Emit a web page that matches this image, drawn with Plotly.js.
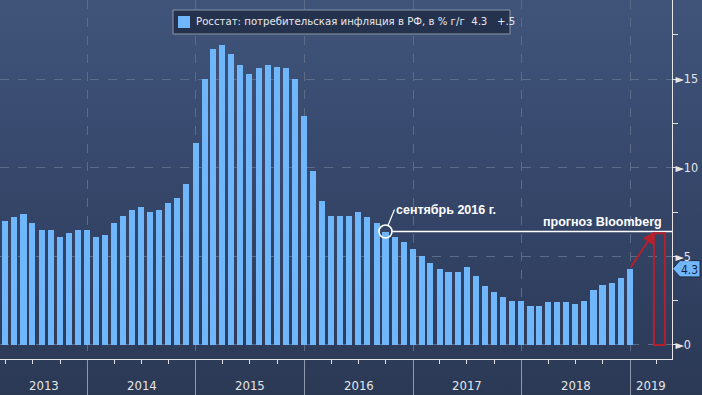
<!DOCTYPE html>
<html>
<head>
<meta charset="utf-8">
<script src="https://cdn.plot.ly/plotly-3.0.1.min.js"></script>
<style>
html,body{margin:0;padding:0;}
body{width:702px;height:395px;overflow:hidden;background:linear-gradient(to bottom,#40547a 0%,#36476b 45%,#2b3955 100%);}
#chart{width:702px;height:395px;}
</style>
</head>
<body>
<div id="chart"></div>
<script>
// Months (year-month), Rosstat CPI y/y, %
const months = [
  '2013-03','2013-04','2013-05','2013-06','2013-07','2013-08','2013-09','2013-10','2013-11','2013-12',
  '2014-01','2014-02','2014-03','2014-04','2014-05','2014-06','2014-07','2014-08','2014-09','2014-10','2014-11','2014-12',
  '2015-01','2015-02','2015-03','2015-04','2015-05','2015-06','2015-07','2015-08','2015-09','2015-10','2015-11','2015-12',
  '2016-01','2016-02','2016-03','2016-04','2016-05','2016-06','2016-07','2016-08','2016-09','2016-10','2016-11','2016-12',
  '2017-01','2017-02','2017-03','2017-04','2017-05','2017-06','2017-07','2017-08','2017-09','2017-10','2017-11','2017-12',
  '2018-01','2018-02','2018-03','2018-04','2018-05','2018-06','2018-07','2018-08','2018-09','2018-10','2018-11','2018-12'
];
const inflation = [
  7.0,7.2,7.4,6.9,6.5,6.5,6.1,6.3,6.5,6.5,
  6.1,6.2,6.9,7.3,7.6,7.8,7.5,7.6,8.0,8.3,9.1,11.4,
  15.0,16.7,16.9,16.4,15.8,15.3,15.6,15.8,15.7,15.6,15.0,12.9,
  9.8,8.1,7.3,7.3,7.3,7.5,7.2,6.9,6.4,6.1,5.8,5.4,
  5.0,4.6,4.3,4.1,4.1,4.4,3.9,3.3,3.0,2.7,2.5,2.5,
  2.2,2.2,2.4,2.4,2.4,2.3,2.5,3.1,3.4,3.5,3.8,4.3
];
const years = [2013,2014,2015,2016,2017,2018,2019];
const yTickVals = [0,5,10,15];
const seriesName = 'Росстат: потребительская инфляция в РФ, в % г/г\u00a0\u00a04.3\u00a0\u00a0\u00a0+.5';
const markMonth = '2016-09';
const markLabel = 'сентябрь 2016 г.';
const forecastLabel = 'прогноз Bloomberg';
const forecastValue = 6.3;
const forecastStart = '2019-03-22';
const forecastEnd = '2019-04-28';

const xRange = ['2013-03-13','2019-05-22'];
const yRange = [-0.79, 19.46];
const barColor = '#70b6fb';

function monthEnd(ym){
  const [y,m] = ym.split('-').map(Number);
  const d = new Date(Date.UTC(y, m, 0));
  return d.toISOString().slice(0,10);
}
function msToStr(ms){ return new Date(ms).toISOString().slice(0,19).replace('T',' '); }
const xDates = months.map(monthEnd);
const DAY = 86400000;

const markIdx = months.indexOf(markMonth);
const markDate = xDates[markIdx];
const markVal = inflation[markIdx];
const lastIdx = inflation.length - 1;
const lastVal = inflation[lastIdx];

const barTrace = {
  type:'bar', x:xDates, y:inflation, name:seriesName, showlegend:false,
  width: 20.5*DAY,
  marker:{color:barColor, line:{width:0}},
  hoverinfo:'skip'
};
const markTrace = {
  type:'scatter', mode:'markers', x:[markDate], y:[markVal], showlegend:false,
  marker:{symbol:'circle-open', size:13, color:'#ffffff', line:{width:1.6, color:'#ffffff'}},
  hoverinfo:'skip'
};

const PW = 672, PH = 359;
const pxX = function(px){ return px/PW; };
const pxY = function(py){ return 1 - py/PH; };
const yp = function(v){ return (v - yRange[0])/(yRange[1]-yRange[0]); };

const r0 = Date.parse(xRange[0]), r1 = Date.parse(xRange[1]);
const annotations = years.map(function(yr){
  const s = Math.max(Date.UTC(yr,0,1), r0);
  const e = Math.min(Date.UTC(yr+1,0,1), r1);
  return {xref:'x', yref:'paper', x:msToStr((s+e)/2), y:-0.073, text:String(yr), showarrow:false,
    xanchor:'center', yanchor:'middle', font:{family:'DejaVu Sans Condensed, Liberation Sans', size:13, color:'#e4e6ea'}};
});
// legend text
annotations.push({
  xref:'paper', yref:'paper', x:pxX(194), y:pxY(22), text:seriesName, showarrow:false,
  xanchor:'left', yanchor:'middle',
  font:{family:'DejaVu Sans Condensed, Liberation Sans', size:11.3, color:'#e6e8ec'}
});
annotations.push({
  xref:'x', yref:'y', x:markDate, y:markVal, text:'<b>'+markLabel+'</b>',
  showarrow:true, arrowhead:0, arrowcolor:'#ffffff', arrowwidth:1.2, standoff:6,
  ax:9, ay:-22, xanchor:'left', yanchor:'middle',
  font:{family:'Liberation Sans, Arial', size:12.5, color:'#ffffff'}
});
annotations.push({
  xref:'paper', yref:'y', x:1, y:markVal, xshift:-8, yshift:1, text:'<b>'+forecastLabel+'</b>',
  showarrow:false, xanchor:'right', yanchor:'bottom',
  font:{family:'Liberation Sans, Arial', size:12.5, color:'#ffffff'}
});
annotations.push({
  xref:'x', yref:'y', x:msToStr(Date.parse(forecastStart)+2*DAY), y:markVal,
  axref:'x', ayref:'y', ax:xDates[lastIdx], ay:lastVal,
  showarrow:true, arrowhead:2, arrowsize:1.2, arrowwidth:2, arrowcolor:'#b4202c', text:'', standoff:0
});
annotations.push({
  xref:'paper', yref:'paper', x:pxX(690), y:yp(lastVal), yshift:-1, text:lastVal.toFixed(1), showarrow:false,
  xanchor:'center', yanchor:'middle', font:{family:'DejaVu Sans Condensed, Liberation Sans', size:12, color:'#13243e'}
});

const shapes = [
  // legend box and swatch
  {type:'rect', xref:'paper', yref:'paper', layer:'above', x0:pxX(173), x1:pxX(510), y0:pxY(34), y1:pxY(10),
   fillcolor:'#25324d', line:{color:'#8c96a8', width:1}},
  {type:'rect', xref:'paper', yref:'paper', layer:'above', x0:pxX(178), x1:pxX(190), y0:pxY(28), y1:pxY(16),
   fillcolor:barColor, line:{width:0}},
  // value tag
  {type:'path', xref:'paper', yref:'paper', layer:'below',
   path:'M '+pxX(672.5)+' '+yp(lastVal)+' L '+pxX(680)+' '+yp(lastVal+0.46)+' L '+pxX(700)+' '+yp(lastVal+0.46)+' L '+pxX(700)+' '+yp(lastVal-0.46)+' L '+pxX(680)+' '+yp(lastVal-0.46)+' Z',
   fillcolor:'#72b7fb', line:{color:'#1a2a46', width:1}},
  {type:'line', xref:'x', yref:'y', x0:msToStr(Date.parse(markDate)+21*DAY), x1:xRange[1], y0:markVal, y1:markVal,
   line:{color:'#ffffff', width:1.5}},
  {type:'rect', xref:'x', yref:'y', x0:forecastStart, x1:forecastEnd, y0:0, y1:forecastValue,
   line:{color:'#b4202c', width:2}, fillcolor:'rgba(0,0,0,0)'}
];

const layout = {
  width:702, height:395,
  margin:{l:0, r:30, t:0, b:36},
  paper_bgcolor:'rgba(0,0,0,0)', plot_bgcolor:'rgba(0,0,0,0)',
  bargap:0,
  showlegend:false,
  xaxis:{type:'date', range:xRange, showgrid:true, gridcolor:'#5b6b88', griddash:'dash', gridwidth:1,
    tickvals:years.slice(1).map(y=>y+'-01-01'), showticklabels:false,
    ticks:'outside', ticklen:36, tickcolor:'#8e99ac', tickwidth:1,
    minor:{dtick:'M3', tick0:'2013-01-01', ticks:'outside', ticklen:4, tickcolor:'#e0e0e0', showgrid:false},
    showline:true, linecolor:'#e6e6e6', linewidth:1, zeroline:false, fixedrange:true},
  yaxis:{side:'right', range:yRange, tickvals:yTickVals,
    ticktext:yTickVals.map(v=>'<span style="font-size:12px">►</span>'+v),
    showgrid:true, gridcolor:'#5b6b88', griddash:'dash', gridwidth:1, zeroline:false,
    ticks:'', ticklabelstandoff:0,
    minor:{dtick:2.5, tick0:0, ticks:'outside', ticklen:5, tickcolor:'#e0e0e0', showgrid:false},
    showline:true, linecolor:'#e6e6e6', linewidth:1,
    tickfont:{family:'DejaVu Sans Condensed, Liberation Sans', size:12.5, color:'#e4e6ea'}, fixedrange:true},
  annotations:annotations,
  shapes:shapes
};
Plotly.newPlot('chart', [barTrace, markTrace], layout, {displayModeBar:false, staticPlot:true});
</script>
</body>
</html>
